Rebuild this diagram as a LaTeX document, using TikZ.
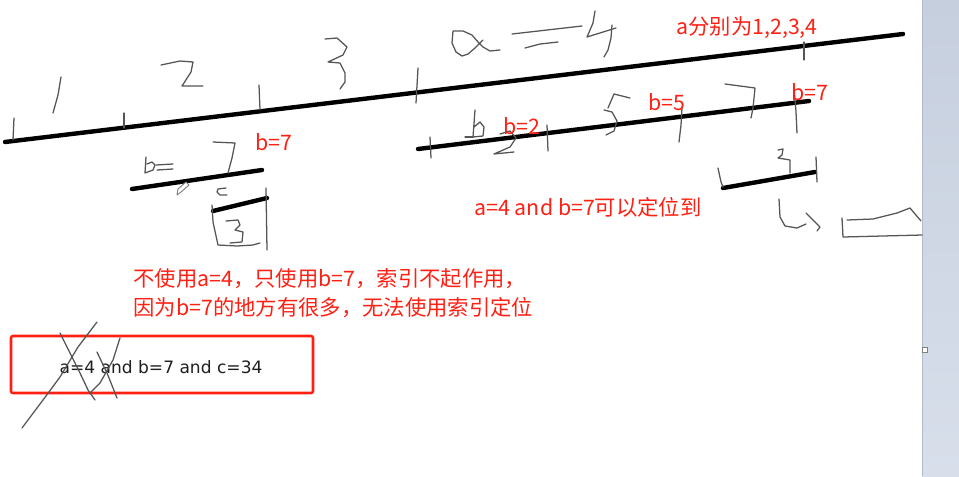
\documentclass[tikz,border=0pt]{standalone}
\usepackage{fontspec}
\setmainfont{Noto Sans CJK SC}
\newfontfamily\boxfont{DejaVu Sans}
\usepackage{tikz}
\definecolor{penGray}{RGB}{85,85,85}
\definecolor{noteRed}{RGB}{255,32,20}
\definecolor{queryInk}{RGB}{30,30,30}
\definecolor{panelTop}{RGB}{198,207,222}
\definecolor{panelBottom}{RGB}{216,223,235}
\definecolor{panelEdge}{RGB}{176,186,204}
\tikzset{every picture/.style={line width=0.75pt}}
\tikzset{
  pen/.style={draw=penGray, line width=0.95pt, line cap=round, line join=round},
  marker/.style={draw=black, line width=3.3pt, line cap=round},
  note/.style={text=noteRed, inner sep=0.75pt, anchor=west, font=\fontsize{16}{19}\selectfont},
}

\begin{document}
\begin{tikzpicture}[x=0.75pt,y=0.75pt,yscale=-1,xscale=1]
\useasboundingbox (0,0) rectangle (959,476);
% side panel of the window
\shade[top color=panelTop, bottom color=panelBottom] (922,0) rectangle (959,476);
\draw[panelEdge, line width=1.2pt] (922.5,0) -- (922.5,476);
\draw[gray, fill=white, line width=0.6pt] (922,347) rectangle (927,352);

% a line
\draw[marker] (5,142) -- (903,34);
\draw[pen] (14,118) -- (13,140);
\draw[pen] (61,77) -- (58,95) -- (53,113);
\draw[pen] (124,113) -- (124,128);
\draw[pen] (161,65) -- (180,61) -- (193,62) -- (191,72) -- (182,86) -- (203,86);
\draw[pen] (259,85) -- (260,110);
\draw[pen] (325,39) -- (337,38) -- (347,47) -- (343,55) -- (328,62) -- (340,63) -- (345,73) -- (345,82) -- (340,89);
\draw[pen] (418,68) -- (416,103);
\draw[pen] (483,40) -- (475,48) -- (468,54) -- (462,56) -- (456,52) -- (452,43) -- (453,31) -- (463,31) -- (472,35) -- (478,42) -- (483,47) -- (490,51) -- (500,50);
\draw[pen] (512,34) -- (582,26);
\draw[pen] (525,48) -- (540,44) -- (558,42);
\draw[pen] (595,11) -- (593,23) -- (587,37) -- (603,32) -- (616,28);
\draw[pen] (612,25) -- (611,38) -- (608,50) -- (604,57);
\draw[pen] (804,42) -- (804,60);

% b line under a=4
\draw[marker] (418,149) -- (809,101);
\draw[pen] (430,137) -- (431,158);
\draw[pen] (475,110) -- (473,137) -- (483,136) -- (484,127) -- (480,122) -- (474,127);
\draw[pen] (465,137) -- (473,137);
\draw[pen] (500,134) -- (510,131) -- (516,138) -- (510,147) -- (494,154) -- (514,152);
\draw[pen] (547,125) -- (548,151);
\draw[pen] (630,98) -- (614,94) -- (608,108);
\draw[pen] (604,110) -- (612,112) -- (617,121) -- (614,131) -- (606,135);
\draw[pen] (682,108) -- (681,125) -- (679,142);
\draw[pen] (725,84) -- (755,88) -- (753,108) -- (751,118);
\draw[pen] (794,88) -- (796,112) -- (797,133);

% b=7 / c branch
\draw[marker] (132,189) -- (262,170);
\draw[pen] (146,157) -- (145,173) -- (153,170) -- (155,165) -- (152,162) -- (147,164);
\draw[pen] (156,165) -- (173,164);
\draw[pen] (157,170) -- (173,169);
\draw[pen] (213,142) -- (235,143) -- (232,158) -- (228,173);
\draw[pen] (226,188) -- (218,189) -- (217,192) -- (220,195) -- (227,195);
\draw[marker] (213,211) -- (267,198);
\draw[pen] (212,205) -- (213,222) -- (218,245) -- (237,246) -- (253,245) -- (260,243);
\draw[pen] (226,221) -- (238,220) -- (240,225) -- (235,230) -- (243,232) -- (242,242) -- (230,243);
\draw[pen] (266,188) -- (267,250);
\draw[gray, fill=white, line width=0.7pt, line join=round] (177,195) -- (178,189) -- (186,182) -- (189,185) -- (181,192) -- cycle;

% c branch on the right
\draw[marker] (723,188) -- (815,172);
\draw[pen] (718,168) -- (721,182) -- (723,187);
\draw[pen] (778,150) -- (783,149) -- (782,155) -- (778,158) -- (790,160) -- (790,173);
\draw[pen] (816,157) -- (817,182);
\draw[pen] (779,199) -- (780,217) -- (785,226) -- (797,228) -- (806,224);
\draw[pen] (806,213) -- (813,220) -- (820,227) -- (817,231);
\draw[pen] (842,218) -- (843,237) -- (922,235);
\draw[pen] (847,220) -- (873,219) -- (897,213) -- (910,208) -- (921,221);

% notes
\node (aValues) [note] at (675,28) {a分别为1,2,3,4};
\node (bSevenLeft) [note] at (254,142) {b=7};
\node (bTwo) [note] at (502,126) {b=2};
\node (bFive) [note] at (647,102) {b=5};
\node (bSevenRight) [note] at (790,92) {b=7};
\node (hitNote) [note] at (473,207) {a=4 and b=7可以定位到};
\node (whyOne) [note] at (132,279) {不使用a=4，只使用b=7，索引不起作用，};
\node (whyTwo) [note] at (132,308) {因为b=7的地方有很多，无法使用索引定位};

% query box, crossed out
\draw[noteRed, line width=1.9pt, rounded corners=1.5pt] (11,336) rectangle (313,393);
\node (query) [text=queryInk, inner sep=0.75pt, font=\boxfont\fontsize{12.8}{15}\selectfont] at (161,367) {a=4 and b=7 and c=34};
\draw[pen] (97,322) -- (78,347) -- (60,377) -- (43,400) -- (22,428);
\draw[pen] (60,333) -- (70,353) -- (80,373) -- (88,390) -- (95,400);
\draw[pen] (120,338) -- (113,360) -- (100,383) -- (90,393);
\draw[pen] (97,352) -- (107,373) -- (117,398);
\end{tikzpicture}
\end{document}
